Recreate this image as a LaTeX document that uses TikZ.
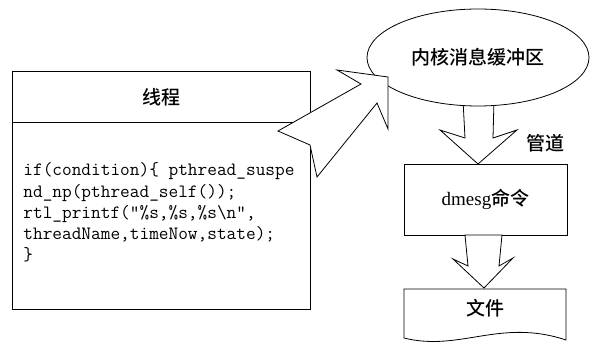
\documentclass[tikz,border=0pt]{standalone}
\usepackage{fontspec}
\setmainfont{Liberation Serif}
\newfontfamily\cjk{Noto Sans CJK SC}[UprightFont={* Medium}]
\usetikzlibrary{shapes.geometric}
\begin{document}
\begin{tikzpicture}[x=1pt,y=-1pt,line width=0.8pt,
  lbl/.style={font=\fontsize{19}{21}\selectfont},
  blockarrow/.style={draw,fill=white,line join=miter},
  boxshape/.style={draw,fill=white,inner sep=0pt}]
\useasboundingbox (0,0) rectangle (600,344);
% class box
\node[boxshape,anchor=north west,minimum width=298pt,minimum height=51pt,lbl] (title) at (12,71) {\cjk 线程};
\node[boxshape,anchor=north west,minimum width=298pt,minimum height=187pt] (body) at (12,122) {};
\node[anchor=base west,inner sep=0pt,align=left,font=\ttfamily\fontsize{18.8}{21.2}\selectfont] (code) at (23,260.8)
 {if(condition)\{ pthread\_suspe\\nd\_np(pthread\_self());\\rtl\_printf("\%s,\%s,\%s\textbackslash n",\\threadName,timeNow,state);\\\}};
% arrow from buffer to dmesg
\draw[blockarrow] (463,100) -- (465,138) -- (440,130) -- (478,164) -- (517,130) -- (493,138) -- (494,100) -- cycle;
% buffer ellipse
\node[ellipse,boxshape,minimum width=222pt,minimum height=97pt,lbl] (buf) at (478,57.5) {\cjk 内核消息缓冲区};
% diagonal block arrow from thread to buffer
\draw[blockarrow] (278,131) -- (361,84) -- (337,70) -- (388,77) -- (388,129) -- (377,103) -- (317,177) -- (310,145) -- cycle;
% dmesg box
\node[boxshape,minimum width=163pt,minimum height=71pt,lbl] (dmesg) at (485.5,199.5) {dmesg{\cjk 命令}};
% arrow dmesg to file
\draw[blockarrow] (465,235) -- (468,266) -- (453,259) -- (484,288) -- (513,258) -- (499,266) -- (502,235) -- cycle;
% file document shape
\draw[fill=white] (404,289) -- (404,338) .. controls (460,352) and (500,318) .. (566,340) -- (566,289) -- cycle;
\node[lbl] (file) at (485,308) {\cjk 文件};
% pipe label
\node[lbl] (pipe) at (545,143) {\cjk 管道};
\end{tikzpicture}
\end{document}
